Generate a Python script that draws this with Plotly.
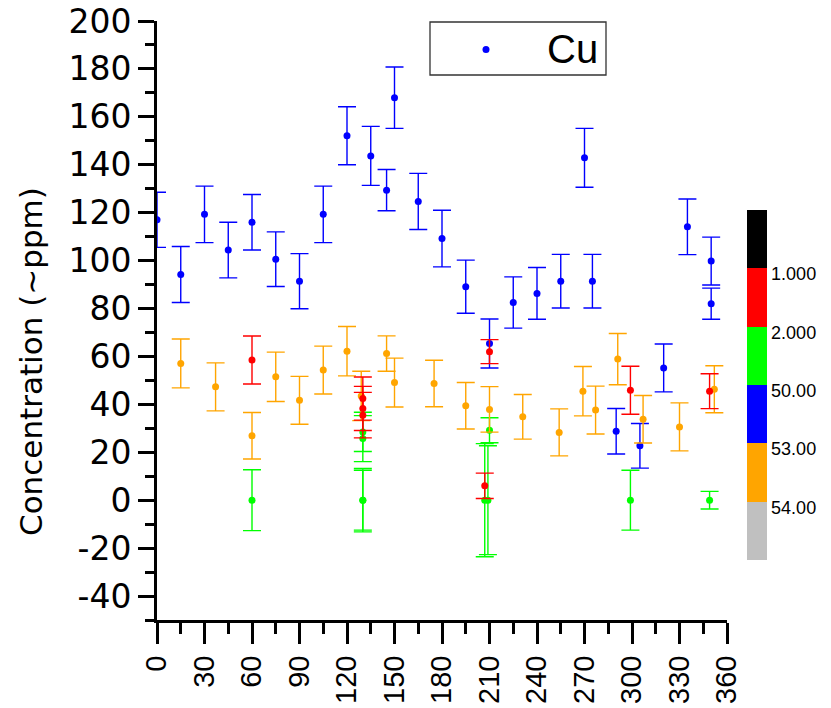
import plotly.graph_objects as go

# Cu concentration (~ppm) versus angle (deg), one group per class colour
blue_x = [0, 15, 30, 45, 60, 75, 90, 105, 120, 135, 145, 150, 165, 180, 195, 210,
          225, 240, 255, 270, 275, 290, 305, 320, 335, 350, 350]
blue_y = [117, 94.2, 119.3, 104.4, 116, 100.6, 91.4, 119.3, 152.1, 143.7, 129.4, 168,
          124.7, 109.2, 89.1, 65.4, 82.5, 86.3, 91.4, 142.9, 91.4, 28.8, 22.7, 55.2,
          114.1, 99.8, 82]
blue_err = [11.5, 11.7, 11.8, 11.6, 11.6, 11.4, 11.5, 11.8, 12.1, 12.3, 8.6, 12.8,
            11.7, 11.8, 11.1, 10.2, 10.7, 10.8, 11.2, 12.3, 11.2, 9.5, 9.3, 10,
            11.6, 10, 6.5]

orange_x = [15, 37, 60, 75, 90, 105, 120, 129, 145, 150, 175, 195, 210, 231, 254,
            269, 277, 291, 307, 330, 352]
orange_y = [57.1, 47.3, 26.9, 51.5, 41.7, 54.3, 62.2, 43.5, 61.2, 49.1, 48.7, 39.4,
            37.9, 34.8, 28.3, 45.5, 37.6, 58.9, 33.8, 30.6, 46.3]
orange_err = [10.2, 10, 9.7, 10.3, 10, 10, 10.3, 10.3, 7.4, 10.2, 9.7, 9.7, 9.5, 9.3,
              9.8, 10.3, 10, 10.7, 9.9, 10, 9.8]

red_x = [60, 130, 130, 130, 207, 210, 299, 349]
red_y = [58.5, 42.4, 38.3, 35.5, 6, 62, 45.9, 45.5]
red_err = [10, 9, 9.2, 9.5, 5.3, 5, 10, 7.3]

green_x = [60, 130, 130, 130, 130, 207, 209, 210, 299, 349]
green_y = [0, 28.5, 25.7, 0, 0, 0, 0, 29.2, 0, 0]
green_err = [12.7, 8.2, 9.6, 12.5, 13.2, 23.6, 22.7, 5.2, 12.5, 3.7]

# colour scale classes (top to bottom) and boundary labels
class_colors = ["#000000", "#ff0000", "#00ff00", "#0000ff", "#ffa500", "#c0c0c0"]
class_labels = ["1.000", "2.000", "50.00", "53.00", "54.00"]

# axis tick labels
x_ticks = list(range(0, 361, 30))
y_ticks = [-40, -20, 0, 20, 40, 60, 80, 100, 120, 140, 160, 180, 200]
y_labels = ["-40", "-20", "0", "20", "40", "60", "80", "100", "120", "140",
            "160", "180", "200"]

FONT = "Liberation Sans, Arial, sans-serif"
WIDEFONT = "DejaVu Sans, Liberation Sans, sans-serif"

# plot area in pixels: left 157, right 727, top 21, bottom 620
L, R, T, B = 157, 727, 21, 620


def px_x(p):
    return (p - L) / (R - L)


def px_y(p):
    return (B - p) / (B - T)


fig = go.Figure()


def add_group(xs, ys, errs, color):
    fig.add_trace(go.Scatter(
        x=xs, y=ys, mode="markers",
        marker=dict(color=color, size=7, line=dict(width=0)),
        error_y=dict(type="data", array=errs, visible=True,
                     color=color, thickness=1.4, width=9),
        showlegend=False, hoverinfo="x+y",
    ))


add_group(green_x, green_y, green_err, "#00ff00")
add_group(blue_x, blue_y, blue_err, "#0000ff")
add_group(orange_x, orange_y, orange_err, "#ffa500")
add_group(red_x, red_y, red_err, "#ff0000")

# discrete colour bar: bands from bottom (gray) to top (black)
n = len(class_colors)
bands = list(reversed(class_colors))
cscale = []
for i, c in enumerate(bands):
    cscale.append([i / n, c])
    cscale.append([(i + 1) / n, c])
tick_vals = [n - 1 - i - 0.1 for i in range(len(class_labels))]

fig.add_trace(go.Scatter(
    x=[None], y=[None], mode="markers", showlegend=False, hoverinfo="skip",
    marker=dict(
        color=[0], cmin=0, cmax=n, colorscale=cscale, showscale=True,
        colorbar=dict(
            thickness=20, thicknessmode="pixels",
            len=350 / (B - T), lenmode="fraction",
            y=px_y(385), yanchor="middle",
            x=px_x(747), xanchor="left",
            xpad=0, ypad=0, outlinewidth=0,
            tickvals=tick_vals, ticktext=class_labels, ticks="",
            tickfont=dict(family=FONT, size=18, color="#000000"),
        ),
    ),
))

# legend box with the Cu symbol
fig.add_shape(type="rect", xref="paper", yref="paper",
              x0=px_x(430), x1=px_x(606), y0=px_y(75), y1=px_y(22),
              line=dict(color="#333333", width=1.3), fillcolor="rgba(0,0,0,0)")
fig.add_shape(type="circle", xref="paper", yref="paper",
              x0=px_x(486 - 3.5), x1=px_x(486 + 3.5),
              y0=px_y(49.5 + 3.5), y1=px_y(49.5 - 3.5),
              line=dict(width=0), fillcolor="#0000ff")
fig.add_annotation(text="Cu", xref="paper", yref="paper",
                   x=px_x(572), y=px_y(49),
                   xanchor="center", yanchor="middle", showarrow=False,
                   font=dict(family=FONT, size=40, color="#000000"))

# y axis title
fig.add_annotation(text="Concentration (~ppm)", xref="paper", yref="paper",
                   x=px_x(31), y=px_y(362), textangle=-90,
                   xanchor="center", yanchor="middle", showarrow=False,
                   font=dict(family=WIDEFONT, size=31, color="#000000"))

fig.update_xaxes(
    range=[0, 360], tickmode="array", tickvals=x_ticks,
    ticktext=[str(v) for v in x_ticks], tickangle=-90,
    showline=True, linecolor="#000000", linewidth=3,
    ticks="outside", ticklen=21, tickwidth=2.5, tickcolor="#000000",
    ticklabelstandoff=0,
    minor=dict(tickmode="linear", tick0=0, dtick=15, ticklen=11, tickwidth=2.5,
               tickcolor="#000000", ticks="outside"),
    showgrid=False, zeroline=False, automargin=False,
    tickfont=dict(family=FONT, size=29, color="#000000"),
)
fig.update_yaxes(
    range=[-50, 200], tickmode="array", tickvals=y_ticks, ticktext=y_labels,
    showline=True, linecolor="#000000", linewidth=3,
    ticks="outside", ticklen=16, tickwidth=2.5, tickcolor="#000000",
    minor=dict(tickmode="linear", tick0=0, dtick=10, ticklen=9, tickwidth=2.5,
               tickcolor="#000000", ticks="outside"),
    showgrid=False, zeroline=False, automargin=False,
    tickfont=dict(family=WIDEFONT, size=33, color="#000000"),
)

fig.update_layout(
    width=831, height=708,
    margin=dict(l=L, r=831 - R, t=T, b=708 - B, pad=0),
    paper_bgcolor="#ffffff", plot_bgcolor="#ffffff",
    font=dict(family=FONT, color="#000000"),
    showlegend=False,
)

fig.write_html("out.html")
